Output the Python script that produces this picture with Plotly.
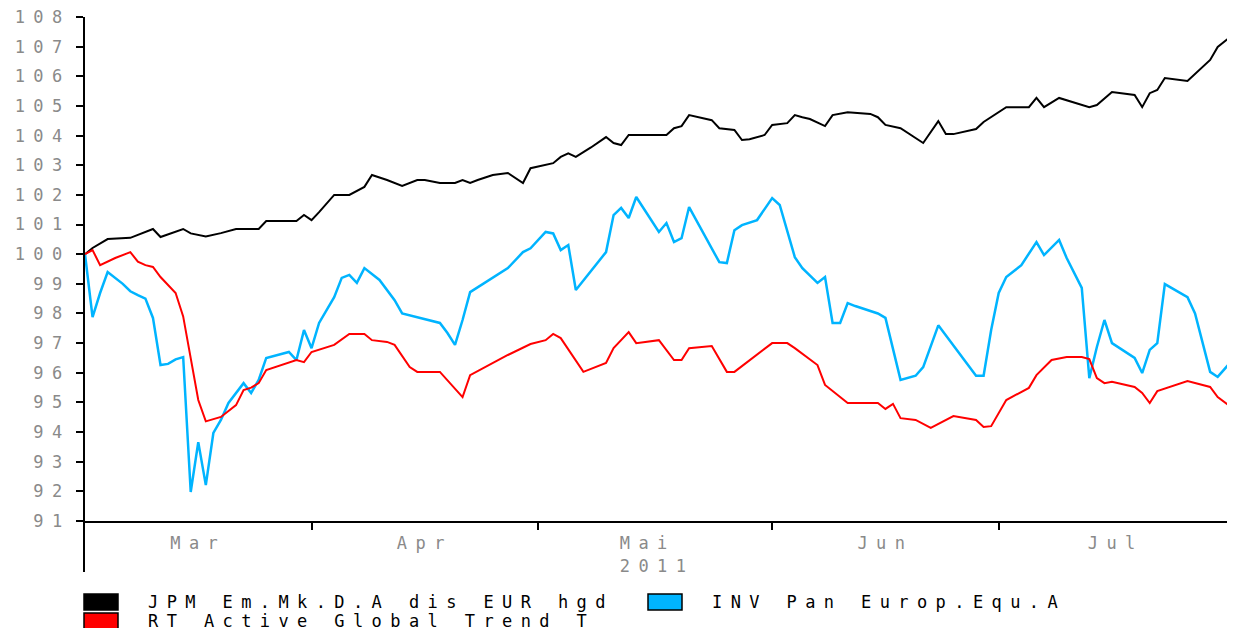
import plotly.graph_objects as go

# ---------------- data ----------------
jpm_name = "JPM Em.Mk.D.A dis EUR hgd"
inv_name = "INV Pan Europ.Equ.A"
rt_name = "RT Active Global Trend T"

jpm_dates = [
    "2011-03-02", "2011-03-03", "2011-03-05", "2011-03-08", "2011-03-11", "2011-03-12", "2011-03-15",
    "2011-03-16", "2011-03-18", "2011-03-20", "2011-03-22", "2011-03-25", "2011-03-26", "2011-03-30", "2011-03-31",
    "2011-04-01", "2011-04-02", "2011-04-04", "2011-04-06", "2011-04-08", "2011-04-09", "2011-04-11", "2011-04-13",
    "2011-04-15", "2011-04-16", "2011-04-18", "2011-04-20", "2011-04-21", "2011-04-22", "2011-04-23", "2011-04-25",
    "2011-04-27", "2011-04-29", "2011-04-30",
    "2011-05-03", "2011-05-04", "2011-05-05", "2011-05-06", "2011-05-08", "2011-05-10", "2011-05-11", "2011-05-12",
    "2011-05-13", "2011-05-18", "2011-05-19", "2011-05-20", "2011-05-21", "2011-05-24", "2011-05-25", "2011-05-27",
    "2011-05-28", "2011-05-29", "2011-05-31",
    "2011-06-01", "2011-06-03", "2011-06-04", "2011-06-05", "2011-06-06", "2011-06-08", "2011-06-09", "2011-06-11",
    "2011-06-14", "2011-06-15", "2011-06-16", "2011-06-18", "2011-06-21", "2011-06-23", "2011-06-24", "2011-06-25",
    "2011-06-28", "2011-06-29",
    "2011-07-02", "2011-07-05", "2011-07-06", "2011-07-07", "2011-07-09", "2011-07-13", "2011-07-14", "2011-07-16",
    "2011-07-19", "2011-07-20", "2011-07-21", "2011-07-22", "2011-07-23", "2011-07-26", "2011-07-28", "2011-07-29",
    "2011-07-30", "2011-08-01 07:00",
]
jpm_values = [
    100.0, 100.21, 100.51, 100.55, 100.85, 100.58, 100.85, 100.7, 100.6, 100.71, 100.85, 100.85, 101.12, 101.12, 101.32,
    101.15, 101.42, 102.0, 102.0, 102.27, 102.67, 102.5, 102.3, 102.5, 102.5, 102.4, 102.4, 102.5, 102.4, 102.5, 102.67,
    102.74, 102.4, 102.9,
    103.07, 103.28, 103.4, 103.28, 103.6, 103.95, 103.75, 103.68, 104.02, 104.02, 104.25, 104.32, 104.69, 104.52, 104.25,
    104.19, 103.85, 103.88, 104.02,
    104.36, 104.42, 104.69, 104.62, 104.56, 104.32, 104.69, 104.79, 104.73, 104.62, 104.36, 104.25, 103.75, 104.49,
    104.05, 104.05, 104.22, 104.46,
    104.96, 104.96, 105.27, 104.96, 105.27, 104.96, 105.03, 105.47, 105.37, 104.96, 105.43, 105.54, 105.94, 105.84,
    106.31, 106.55, 106.99, 107.46,
]

inv_dates = [
    "2011-03-02", "2011-03-03", "2011-03-04", "2011-03-05", "2011-03-07", "2011-03-08", "2011-03-09", "2011-03-10",
    "2011-03-11", "2011-03-12", "2011-03-13", "2011-03-14", "2011-03-15", "2011-03-16", "2011-03-17", "2011-03-18",
    "2011-03-19", "2011-03-20", "2011-03-21", "2011-03-22", "2011-03-23", "2011-03-24", "2011-03-25", "2011-03-26",
    "2011-03-29", "2011-03-30", "2011-03-31",
    "2011-04-01", "2011-04-02", "2011-04-04", "2011-04-05", "2011-04-06", "2011-04-07", "2011-04-08", "2011-04-10",
    "2011-04-12", "2011-04-13", "2011-04-18", "2011-04-19", "2011-04-20", "2011-04-21", "2011-04-22", "2011-04-27",
    "2011-04-29", "2011-04-30",
    "2011-05-02", "2011-05-03", "2011-05-04", "2011-05-05", "2011-05-06", "2011-05-10", "2011-05-11", "2011-05-12",
    "2011-05-13", "2011-05-14", "2011-05-17", "2011-05-18", "2011-05-19", "2011-05-20", "2011-05-21", "2011-05-25",
    "2011-05-26", "2011-05-27", "2011-05-28", "2011-05-30",
    "2011-06-01", "2011-06-02", "2011-06-04", "2011-06-05", "2011-06-07", "2011-06-08", "2011-06-09", "2011-06-10",
    "2011-06-11", "2011-06-12", "2011-06-15", "2011-06-16", "2011-06-18", "2011-06-20", "2011-06-21", "2011-06-23",
    "2011-06-28", "2011-06-29", "2011-06-30",
    "2011-07-01", "2011-07-02", "2011-07-04", "2011-07-06", "2011-07-07", "2011-07-09", "2011-07-10", "2011-07-12",
    "2011-07-13", "2011-07-14", "2011-07-15", "2011-07-16", "2011-07-19", "2011-07-20", "2011-07-21", "2011-07-22",
    "2011-07-23", "2011-07-26", "2011-07-27", "2011-07-29", "2011-07-30", "2011-08-01 07:00",
]
inv_values = [
    100.0, 97.88, 98.69, 99.4, 99.0, 98.75, 98.62, 98.5, 97.85, 96.26, 96.3, 96.45, 96.53, 91.98, 93.66, 92.21,
    93.97, 94.41, 94.98, 95.32, 95.65, 95.32, 95.76, 96.5, 96.7, 96.43, 97.44,
    96.83, 97.68, 98.55, 99.2, 99.3, 99.03, 99.53, 99.13, 98.45, 98.0, 97.68, 97.34, 96.94, 97.78, 98.72, 99.53,
    100.07, 100.2,
    100.75, 100.7, 100.14, 100.31, 98.79, 100.07, 101.32, 101.56, 101.22, 101.93, 100.75, 101.05, 100.41, 100.54,
    101.59, 99.73, 99.7, 100.81, 100.98, 101.15,
    101.89, 101.66, 99.9, 99.53, 99.03, 99.23, 97.68, 97.68, 98.35, 98.25, 98.0, 97.85, 95.76, 95.9, 96.19, 97.6,
    95.9, 95.9, 97.44,
    98.69, 99.23, 99.63, 100.41, 99.97, 100.48, 99.87, 98.86, 95.82, 96.87, 97.78, 97.0, 96.5, 95.99, 96.77, 97.0,
    98.99, 98.55, 98.0, 96.03, 95.86, 96.53,
]

rt_dates = [
    "2011-03-02", "2011-03-03", "2011-03-04", "2011-03-06", "2011-03-08", "2011-03-09", "2011-03-10", "2011-03-11",
    "2011-03-12", "2011-03-14", "2011-03-15", "2011-03-16", "2011-03-17", "2011-03-18", "2011-03-20", "2011-03-22",
    "2011-03-23", "2011-03-24", "2011-03-25", "2011-03-26", "2011-03-29", "2011-03-30", "2011-03-31",
    "2011-04-01", "2011-04-04", "2011-04-06", "2011-04-08", "2011-04-09", "2011-04-11", "2011-04-12", "2011-04-14",
    "2011-04-15", "2011-04-18", "2011-04-21", "2011-04-22", "2011-04-27", "2011-04-30",
    "2011-05-02", "2011-05-03", "2011-05-04", "2011-05-07", "2011-05-10", "2011-05-11", "2011-05-13", "2011-05-14",
    "2011-05-17", "2011-05-19", "2011-05-20", "2011-05-21", "2011-05-24", "2011-05-26", "2011-05-27",
    "2011-06-01", "2011-06-03", "2011-06-04", "2011-06-07", "2011-06-08", "2011-06-11", "2011-06-15", "2011-06-16",
    "2011-06-17", "2011-06-18", "2011-06-20", "2011-06-22", "2011-06-25", "2011-06-28", "2011-06-29", "2011-06-30",
    "2011-07-02", "2011-07-05", "2011-07-06", "2011-07-08", "2011-07-10", "2011-07-12", "2011-07-13", "2011-07-14",
    "2011-07-15", "2011-07-16", "2011-07-19", "2011-07-20", "2011-07-21", "2011-07-22", "2011-07-26", "2011-07-29",
    "2011-07-30", "2011-08-01 07:00",
]
rt_values = [
    100.0, 100.14, 99.63, 99.87, 100.07, 99.75, 99.63, 99.57, 99.23, 98.69, 97.9, 96.43, 95.08, 94.36, 94.51, 94.91,
    95.42, 95.5, 95.65, 96.09, 96.33, 96.43, 96.36,
    96.7, 96.94, 97.31, 97.31, 97.1, 97.04, 96.94, 96.19, 96.03, 96.03, 95.18, 95.92, 96.6, 96.97,
    97.1, 97.31, 97.17, 96.03, 96.33, 96.83, 97.37, 97.0, 97.1, 96.43, 96.43, 96.83, 96.9, 96.03, 96.03,
    97.0, 97.0, 96.83, 96.26, 95.59, 94.98, 94.98, 94.78, 94.95, 94.47, 94.41, 94.14, 94.54, 94.41, 94.17, 94.2,
    95.08, 95.49, 95.92, 96.43, 96.53, 96.53, 96.46, 95.82, 95.65, 95.7, 95.52, 95.32, 94.98, 95.38, 95.72, 95.52,
    95.18, 94.74,
]

y_ticks = list(range(91, 109))
month_labels = ["Mar", "Apr", "Mai", "Jun", "Jul"]
year_label = "2011"
month_label_dates = ["2011-03-17", "2011-04-16", "2011-05-16 18:00", "2011-06-16", "2011-07-16 12:00"]
month_starts = ["2011-04-01", "2011-05-01", "2011-06-01", "2011-07-01", "2011-08-01"]
x_range = ["2011-03-02", "2011-08-01 07:00"]

# ---------------- style ----------------
OFF = 8                      # page body margin of the html page
W, H = 1235 - OFF, 628 - OFF
ML, MR, MT, MB = 85 - OFF, 0, 17 - OFF, 628 - 521
FONT = "DejaVu Sans Mono"
FS = 17
LS = 8.4  # letter spacing to mimic the wide pixel font
GREY = "#8a8a8a"
BLACK = "#000000"
BLUE = "#00b4ff"
RED = "#ff0000"


def px_x(px):
    """window pixel (reference) -> paper x"""
    return (px - OFF - ML) / (W - ML - MR)


def px_y(py):
    """window pixel (reference) -> paper y"""
    return (H - MB - (py - OFF)) / (H - MT - MB)


def spaced(s):
    return f'<span style="letter-spacing:{LS}px">{s}</span>'


fig = go.Figure()
fig.add_trace(go.Scatter(x=jpm_dates, y=jpm_values, mode="lines", name=jpm_name,
                         line=dict(color=BLACK, width=2)))
fig.add_trace(go.Scatter(x=inv_dates, y=inv_values, mode="lines", name=inv_name,
                         line=dict(color=BLUE, width=2.5)))
fig.add_trace(go.Scatter(x=rt_dates, y=rt_values, mode="lines", name=rt_name,
                         line=dict(color=RED, width=2)))

x_ticktext = []
for m in month_labels:
    if m == "Mai":
        x_ticktext.append(spaced("Mai\u00a0") + "<br>" + spaced(year_label))
    else:
        x_ticktext.append(spaced(m))

fig.update_layout(
    width=W, height=H,
    margin=dict(l=ML, r=MR, t=MT, b=MB, autoexpand=False),
    paper_bgcolor="white", plot_bgcolor="white",
    showlegend=False,
    font=dict(family=FONT, size=FS, color=BLACK),
    xaxis=dict(
        type="date", range=x_range, showgrid=False, zeroline=False,
        showline=True, linecolor=BLACK, linewidth=2, automargin=False,
        tickmode="array", tickvals=month_label_dates, ticktext=x_ticktext,
        ticks="", tickfont=dict(family=FONT, size=FS, color=GREY),
        ticklabelstandoff=6, ticklabeloverflow="allow",
        minor=dict(tickmode="array", tickvals=month_starts, ticks="outside",
                   ticklen=7, tickwidth=2, tickcolor=BLACK, showgrid=False),
    ),
    yaxis=dict(
        range=[91, 108], showgrid=False, zeroline=False,
        showline=True, linecolor=BLACK, linewidth=2, automargin=False,
        tickmode="array", tickvals=y_ticks, ticktext=[spaced(str(v)) for v in y_ticks],
        ticks="outside", ticklen=7, tickwidth=1.5, tickcolor=BLACK,
        ticklabelstandoff=2, ticklabeloverflow="allow",
        tickfont=dict(family=FONT, size=FS, color=GREY),
    ),
)

# y-axis line extends below the x-axis
fig.add_shape(type="line", xref="paper", yref="paper", x0=px_x(84), x1=px_x(84),
              y0=0, y1=px_y(572), line=dict(color=BLACK, width=2))

# manual legend (boxes + text)
legend_items = [
    (jpm_name, BLACK, 84, 594, 146),
    (inv_name, BLUE, 648, 594, 710),
    (rt_name, RED, 84, 613, 146),
]
for name, col, bx, by, tx in legend_items:
    fig.add_shape(type="rect", xref="paper", yref="paper",
                  x0=px_x(bx), x1=px_x(bx + 34), y0=px_y(by + 16), y1=px_y(by),
                  fillcolor=col, line=dict(color=BLACK, width=1.5))
    fig.add_annotation(xref="paper", yref="paper", x=px_x(tx), y=px_y(by + 8),
                       xanchor="left", yanchor="middle", showarrow=False,
                       text=spaced(name), font=dict(family=FONT, size=FS, color=BLACK))

fig.write_html("out.html")
